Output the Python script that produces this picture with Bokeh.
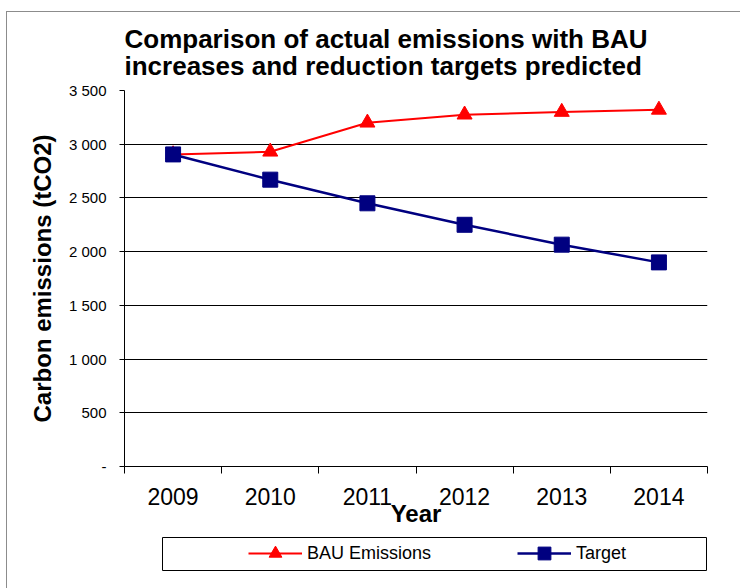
from bokeh.plotting import figure
from bokeh.layouts import column
from bokeh.models import Range1d, FixedTicker, Legend, LegendItem, InlineStyleSheet
from bokeh.embed import file_html
from bokeh.resources import INLINE

# ---- data ----
years = ["2009", "2010", "2011", "2012", "2013", "2014"]
bau_emissions = [2905, 2930, 3200, 3275, 3300, 3320]
target = [2905, 2670, 2450, 2250, 2065, 1900]
y_tick_values = [0, 500, 1000, 1500, 2000, 2500, 3000, 3500]
y_tick_labels = ["-", "500", "1 000", "1 500", "2 000", "2 500", "3 000", "3 500"]
title_text = "Comparison of actual emissions with BAU\nincreases and reduction targets predicted"
x_title = "Year"
y_title = "Carbon emissions (tCO2)"
series_names = ["BAU Emissions", "Target"]

FONT = "Liberation Sans"
RED = "#FF0000"
NAVY = "#000080"
x_pos = list(range(1, len(years) + 1))

BL, BR = 124, 33  # shared left/right borders (frames are aligned in the column)

# ---------------- main chart ----------------
p = figure(width=740, height=535, output_backend="svg", toolbar_location=None,
           x_range=Range1d(0.5, len(years) + 0.5), y_range=Range1d(0, 3500),
           min_border_left=BL, min_border_right=BR, min_border_top=90,
           min_border_bottom=69, title=title_text)
p.outline_line_color = None
p.background_fill_color = "white"
p.border_fill_color = "white"

p.title.align = "left"
p.title.offset = 0
p.title.text_font = FONT
p.title.text_font_size = "26px"
p.title.text_font_style = "bold"
p.title.text_color = "black"
p.title.text_line_height = 0.9
p.title.standoff = 20

# grid
p.xgrid.grid_line_color = None
p.ygrid.ticker = FixedTicker(ticks=y_tick_values)
p.ygrid.grid_line_color = "black"
p.ygrid.grid_line_width = 1

# x axis
xa = p.xaxis[0]
xa.ticker = FixedTicker(ticks=x_pos, minor_ticks=[x - 0.5 for x in x_pos] + [len(years) + 0.5])
xa.major_label_overrides = {x: y for x, y in zip(x_pos, years)}
xa.major_tick_line_color = None
xa.major_tick_out = 0
xa.major_tick_in = 0
xa.minor_tick_out = 7
xa.minor_tick_in = 0
xa.minor_tick_line_color = "black"
xa.axis_line_color = "black"
xa.major_label_text_font = FONT
xa.major_label_text_font_size = "23px"
xa.major_label_text_color = "black"
xa.major_label_standoff = 14
xa.axis_label = x_title
xa.axis_label_text_font = FONT
xa.axis_label_text_font_size = "24px"
xa.axis_label_text_font_style = "bold"
xa.axis_label_text_color = "black"
xa.axis_label_standoff = -8

# y axis
ya = p.yaxis[0]
ya.ticker = FixedTicker(ticks=y_tick_values)
ya.major_label_overrides = {v: s for v, s in zip(y_tick_values, y_tick_labels)}
ya.major_tick_out = 5
ya.major_tick_in = 0
ya.minor_tick_line_color = None
ya.axis_line_color = "black"
ya.major_tick_line_color = "black"
ya.major_label_text_font = FONT
ya.major_label_text_font_size = "15px"
ya.major_label_text_color = "black"
ya.major_label_standoff = 13
ya.axis_label = y_title
ya.axis_label_text_font = FONT
ya.axis_label_text_font_size = "24px"
ya.axis_label_text_font_style = "bold"
ya.axis_label_text_color = "black"
ya.axis_label_standoff = 10

# series
p.line(x_pos, bau_emissions, line_color=RED, line_width=2)
p.scatter(x_pos, bau_emissions, marker="triangle", size=15, fill_color=RED, line_color=RED)
p.line(x_pos, target, line_color=NAVY, line_width=2.5)
p.scatter(x_pos, target, marker="square", size=15, fill_color=NAVY, line_color=NAVY)

# ---------------- legend strip ----------------
# x/y ranges of this strip are in pixels of the strip's frame
q = figure(width=740, height=53, output_backend="svg", toolbar_location=None,
           x_axis_type=None, y_axis_type=None,
           x_range=Range1d(BL, 740 - BR), y_range=Range1d(0, 39),
           min_border_left=BL, min_border_right=BR, min_border_top=0,
           min_border_bottom=14)
q.grid.visible = False
q.outline_line_color = None
q.background_fill_color = "white"
q.border_fill_color = "white"

# legend frame box
q.quad(left=[162], right=[706], bottom=[4], top=[37], fill_alpha=0,
       line_color="black", line_width=1)

# legend sample renderers (their data lie outside this strip's ranges)
lb1 = q.line(x_pos, bau_emissions, line_color=RED, line_width=2)
lb2 = q.scatter(x_pos, bau_emissions, marker="triangle", size=15, fill_color=RED, line_color=RED)
lt1 = q.line(x_pos, target, line_color=NAVY, line_width=2.5)
lt2 = q.scatter(x_pos, target, marker="square", size=15, fill_color=NAVY, line_color=NAVY)

legend = Legend(items=[LegendItem(label=series_names[0], renderers=[lb1, lb2]),
                       LegendItem(label=series_names[1], renderers=[lt1, lt2])],
                location=(124, 5), orientation="horizontal", padding=0, margin=0,
                spacing=86, glyph_width=54, glyph_height=32, label_standoff=5,
                label_text_font=FONT, label_text_font_size="18px",
                label_text_color="black", border_line_color=None,
                background_fill_alpha=0)
q.add_layout(legend, "center")

# outer chart-area border (left and top edges, as in the reference)
border_css = InlineStyleSheet(css="""
:host { position: relative; }
:host::after {
  content: ""; position: absolute; left: 6px; top: 11px;
  width: calc(100% - 6px); height: calc(100% - 11px);
  border-left: 1px solid #8c8c8c; border-top: 1px solid #8c8c8c;
  box-sizing: border-box; pointer-events: none; z-index: 10;
}
""")

layout = column(p, q, spacing=0, stylesheets=[border_css])
open("out.html", "w").write(file_html(layout, INLINE))
